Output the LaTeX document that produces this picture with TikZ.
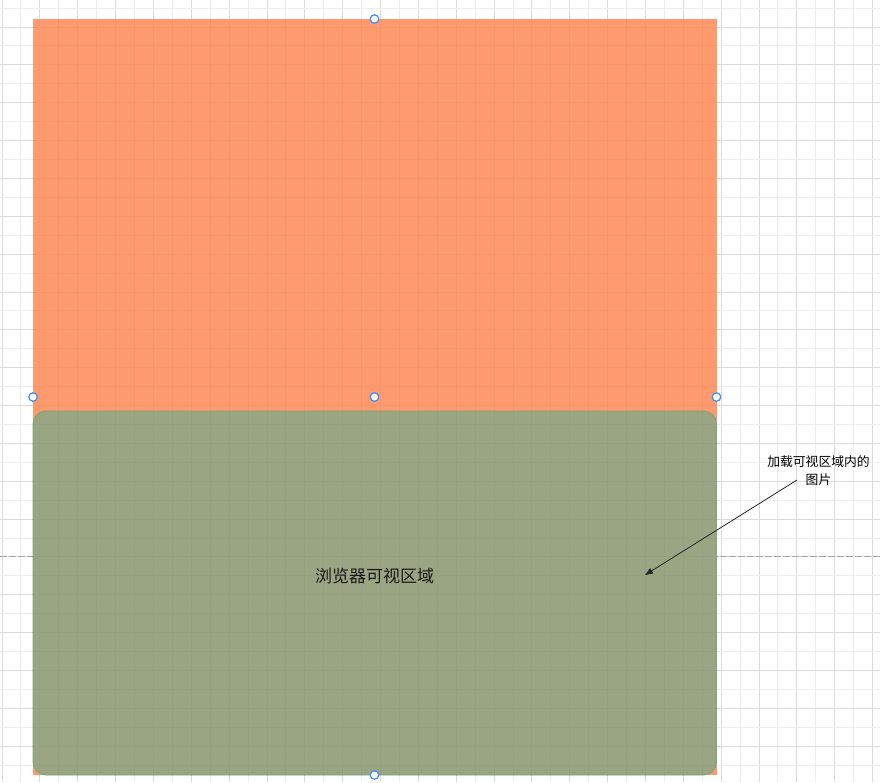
\documentclass[tikz,border=0pt]{standalone}
\usepackage{fontspec}
\newfontfamily\cjk{Noto Sans CJK SC}
\usetikzlibrary{arrows.meta}
\definecolor{orangefill}{RGB}{254,154,110}
\definecolor{greenfill}{RGB}{153,165,131}
\definecolor{greenline}{RGB}{125,165,115}
\definecolor{gridlight}{RGB}{238,238,238}
\definecolor{griddark}{RGB}{218,218,218}
\definecolor{handleblue}{RGB}{60,140,250}
\definecolor{textdark}{RGB}{25,25,25}
\tikzset{
  lightgridline/.style={draw=gridlight, line width=0.9pt},
  darkgridline/.style={draw=griddark, line width=0.9pt},
  pagebreak/.style={draw=black!35, line width=0.9pt, dash pattern=on 7pt off 2pt},
  orangebox/.style={fill=orangefill, inner sep=0pt, minimum width=683.5pt, minimum height=756pt},
  greenbox/.style={fill=greenfill, draw=greenline, line width=0.9pt, rounded corners=13pt, inner sep=0pt, minimum width=683.5pt, minimum height=364pt},
  handle/.style={circle, draw=handleblue, fill=white, line width=1.2pt, inner sep=0pt, minimum size=8.5pt},
  maintext/.style={font=\cjk\fontsize{17}{20}\selectfont, text=textdark, inner sep=0pt},
  notetext/.style={font=\cjk\fontsize{12.8}{18}\selectfont, text=black, align=center, inner sep=0pt},
  pointer/.style={draw=black!85, line width=0.8pt, -{Triangle[length=8pt, width=6pt]}}
}
\begin{document}
\begin{tikzpicture}[x=1pt,y=-1pt]
\useasboundingbox (0,0) rectangle (880,782);
\fill[white] (0,0) rectangle (880,782);
% grid
\foreach \k in {0,...,23} {
  \draw[lightgridline] ({20.925+37.85*\k},0) -- ++(0,782);
  \draw[darkgridline] ({2+37.85*\k},0) -- ++(0,782);
}
\foreach \k in {0,...,21} {
  \draw[lightgridline] (0,{8.075+37.85*\k}) -- ++(880,0);
  \draw[darkgridline] (0,{-10.85+37.85*\k}) -- ++(880,0);
}
\draw[pagebreak] (0,556) -- (880,556);
% shapes
\node[orangebox] (viewport) at (374.75,397) {};
\node[greenbox] (visible) at (374.75,593) {};
% faint grid over shapes
\begin{scope}[opacity=0.06]
\clip (33,19) rectangle (716.5,775.5);
\foreach \k in {0,...,23} {
  \draw[draw=black!60, line width=0.9pt] ({20.925+37.85*\k},0) -- ++(0,782);
  \draw[draw=black!60, line width=0.9pt] ({2+37.85*\k},0) -- ++(0,782);
}
\foreach \k in {0,...,21} {
  \draw[draw=black!60, line width=0.9pt] (0,{8.075+37.85*\k}) -- ++(880,0);
  \draw[draw=black!60, line width=0.9pt] (0,{-10.85+37.85*\k}) -- ++(880,0);
}
\end{scope}
\node[maintext] (label) at (374.5,576.5) {浏览器可视区域};
% handles
\node[handle] (h1) at (374.5,19) {};
\node[handle] (h2) at (33,397) {};
\node[handle] (h3) at (374.5,397) {};
\node[handle] (h4) at (716.5,397) {};
\node[handle] (h5) at (374.5,775) {};
% annotation
\node[notetext] (note) at (818.5,470.5) {加载可视区域内的\\图片};
\coordinate (arrowstart) at (797,480);
\coordinate (arrowend) at (645,575);
\draw[pointer] (arrowstart) -- (arrowend);
\end{tikzpicture}
\end{document}
